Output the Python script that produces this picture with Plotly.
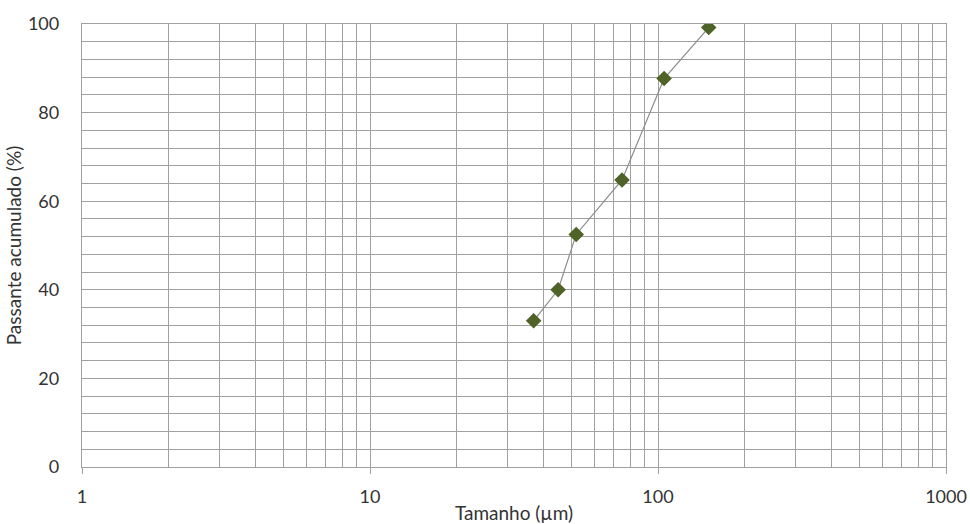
import plotly.graph_objects as go

tamanho = [37, 45, 52, 75, 105, 150]
passante = [33.0, 40.0, 52.5, 64.8, 87.7, 99.2]

major_x = [1, 10, 100, 1000]
minor_x = [m * d for d in (1, 10, 100) for m in range(2, 10)]

fig = go.Figure()
fig.add_trace(go.Scatter(
    x=tamanho, y=passante, mode="lines+markers",
    line=dict(color="#8c8c8c", width=1.2),
    marker=dict(symbol="diamond", size=12, color="#4f6228",
                line=dict(color="#4f6228", width=0)),
    showlegend=False,
))

grid = "#a0a0a0"
txt = "#333333"
fig.update_layout(
    width=970, height=524,
    margin=dict(l=82, r=24, t=24, b=57),
    paper_bgcolor="white", plot_bgcolor="white",
    font=dict(family="Lato, Carlito, Liberation Sans, sans-serif", color=txt),
    xaxis=dict(
        type="log", range=[0, 3], automargin=False,
        tickvals=major_x, ticktext=[str(v) for v in major_x],
        ticks="outside", ticklen=6, tickcolor=grid, tickwidth=1.3,
        ticklabeloverflow="allow", ticklabelstandoff=7,
        showgrid=True, gridcolor=grid, gridwidth=1.3,
        minor=dict(tickvals=minor_x, showgrid=True, gridcolor=grid,
                   gridwidth=1.3, ticks=""),
        tickfont=dict(size=18, color=txt),
        title=dict(text="Tamanho (µm)", font=dict(size=19, color=txt), standoff=2),
        zeroline=False, showline=True, linecolor=grid, linewidth=1.3, mirror=True,
    ),
    yaxis=dict(
        range=[0, 100], dtick=20, automargin=False,
        showgrid=True, gridcolor=grid, gridwidth=1.3,
        minor=dict(dtick=4, showgrid=True, gridcolor=grid, gridwidth=1.3),
        tickfont=dict(size=18, color=txt),
        ticks="", ticklabelstandoff=18, ticklabeloverflow="allow",
        title=dict(text="Passante acumulado (%)", font=dict(size=19, color=txt), standoff=1),
        zeroline=False, showline=True, linecolor=grid, linewidth=1.3, mirror=True,
    ),
)

fig.write_html("out.html")
